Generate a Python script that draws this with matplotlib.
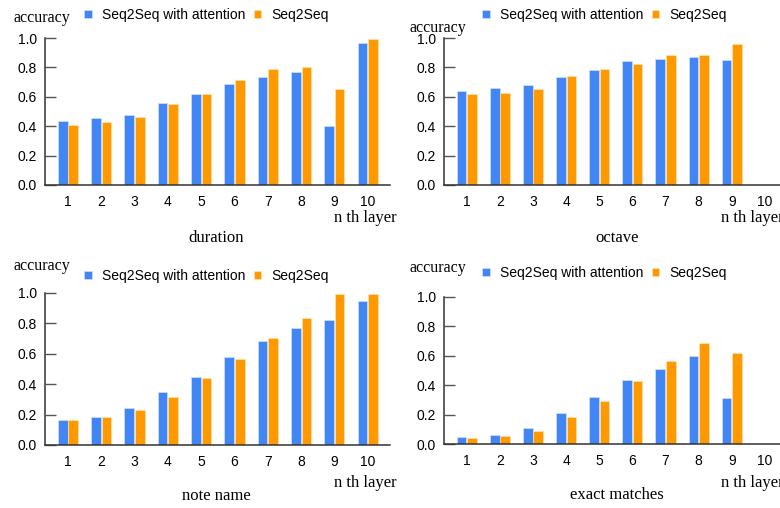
import numpy as np
import matplotlib
matplotlib.use("Agg")
import matplotlib.pyplot as plt

# 데이터
layers = [1, 2, 3, 4, 5, 6, 7, 8, 9, 10]
series_names = ["Seq2Seq with attention", "Seq2Seq"]

duration_att = [0.433, 0.453, 0.478, 0.558, 0.619, 0.689, 0.735, 0.769, 0.399, 0.966]
duration_s2s = [0.408, 0.429, 0.463, 0.553, 0.619, 0.714, 0.787, 0.805, 0.653, 0.995]

octave_att = [0.639, 0.658, 0.680, 0.732, 0.782, 0.844, 0.857, 0.871, 0.853, np.nan]
octave_s2s = [0.619, 0.624, 0.653, 0.741, 0.787, 0.825, 0.884, 0.884, 0.957, np.nan]

note_att = [0.166, 0.182, 0.241, 0.346, 0.449, 0.580, 0.683, 0.772, 0.821, 0.947]
note_s2s = [0.166, 0.182, 0.228, 0.317, 0.438, 0.565, 0.705, 0.836, 0.996, 0.996]

exact_att = [0.045, 0.064, 0.109, 0.211, 0.320, 0.436, 0.507, 0.598, 0.316, np.nan]
exact_s2s = [0.041, 0.055, 0.086, 0.182, 0.293, 0.430, 0.568, 0.684, 0.620, np.nan]

panel_titles = ["duration", "octave", "note name", "exact matches"]
yticks = [0.0, 0.2, 0.4, 0.6, 0.8, 1.0]

BLUE = "#4285F4"
ORANGE = "#FF9900"
W, H = 780, 508

fig = plt.figure(figsize=(W / 100, H / 100), dpi=100)


def px_axes(l, t, r, b):
    return fig.add_axes([l / W, 1 - b / H, (r - l) / W, (b - t) / H])


def ftext(x, y, s, **kw):
    fig.text(x / W, 1 - y / H, s, **kw)


# 패널 위치 (픽셀): left, top(1.0), right, bottom(0.0)
boxes = [(45, 38, 390, 185), (444, 38, 787, 185),
         (45, 293, 390, 445), (444, 297, 787, 444)]
panels = [(duration_att, duration_s2s), (octave_att, octave_s2s),
          (note_att, note_s2s), (exact_att, exact_s2s)]

# 텍스트 위치 (픽셀)
acc_pos = [(13, 22), (410, 32), (13, 270), (410, 272)]
legend_pos = [(84, 15), (482, 15), (84, 276), (482, 273)]
layer_pos = [(334, 222), (721, 222), (334, 487), (721, 487)]
title_pos = [(216, 242), (617, 242), (216, 500), (617, 499)]

serif = "Liberation Serif"
sans = "Liberation Sans"

x = np.array(layers, dtype=float)
bw = 0.29
off = 0.158

for i, (box, (a, s)) in enumerate(zip(boxes, panels)):
    ax = px_axes(*box)
    b1 = ax.bar(x - off, a, bw, color=BLUE, edgecolor="#cfe0fc", linewidth=0.5,
                label=series_names[0])
    b2 = ax.bar(x + off, s, bw, color=ORANGE, edgecolor="#ffe2b3", linewidth=0.5,
                label=series_names[1])
    ax.set_xlim(0.31, 10.67)
    ax.set_ylim(0, 1.0)
    ax.set_yticks(yticks)
    ax.set_yticklabels([f"{v:.1f}" for v in yticks], fontfamily=sans, fontsize=10)
    ax.set_xticks(layers)
    ax.set_xticklabels([str(v) for v in layers], fontfamily=sans, fontsize=10)
    ax.tick_params(axis="y", direction="in", length=8, width=1, color="#555555", pad=6)
    ax.tick_params(axis="x", length=0, pad=7)
    for sp in ["top", "right"]:
        ax.spines[sp].set_visible(False)
    for sp in ["left", "bottom"]:
        ax.spines[sp].set_color("#333333")
        ax.spines[sp].set_linewidth(1.1)

    lx, ly = legend_pos[i]
    ax.legend(handles=[b1, b2], loc="center left",
              bbox_to_anchor=(lx / W, 1 - ly / H), bbox_transform=fig.transFigure,
              ncol=2, frameon=False, borderpad=0, borderaxespad=0,
              handlelength=0.55, handleheight=0.55, handletextpad=0.75,
              columnspacing=0.6, prop={"family": sans, "size": 10})

    ftext(*acc_pos[i], "accuracy", family=serif, fontsize=11.5, va="baseline")
    ftext(*layer_pos[i], "n th layer", family=serif, fontsize=12, va="baseline")
    ftext(*title_pos[i], panel_titles[i], family=serif, fontsize=12, va="baseline",
          ha="center")

fig.savefig("out.png", dpi=100)
